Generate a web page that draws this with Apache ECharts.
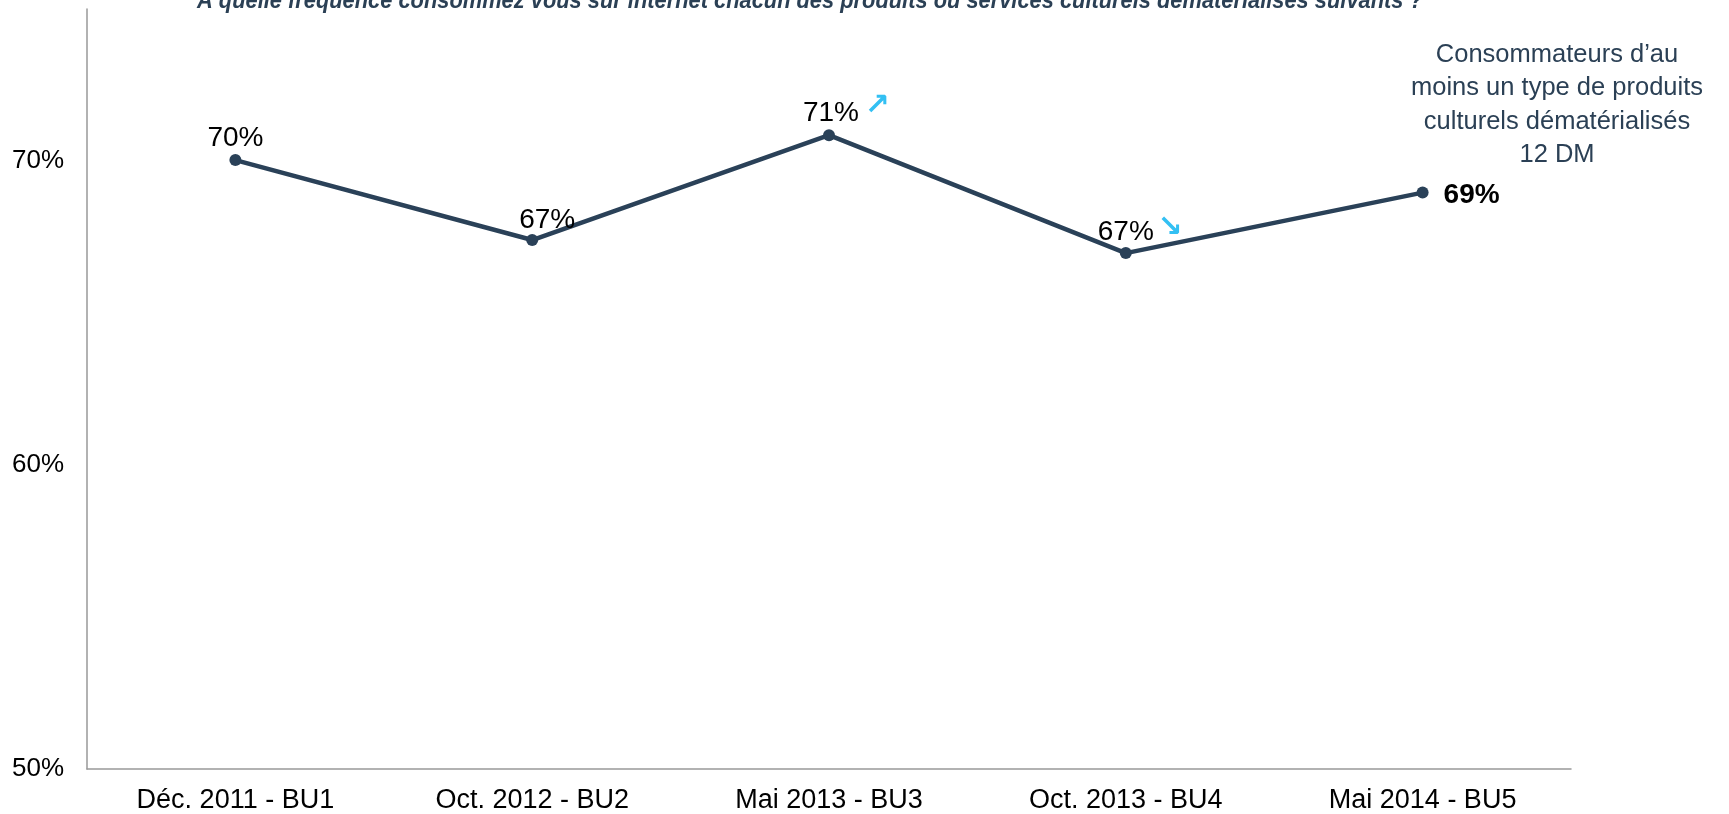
<!DOCTYPE html>
<html>
<head>
<meta charset="utf-8">
<script src="https://cdn.jsdelivr.net/npm/echarts@6/dist/echarts.min.js"></script>
<style>
html,body{margin:0;padding:0;background:#fff;}
#chart{width:1729px;height:814px;}
</style>
</head>
<body>
<div id="chart"></div>
<script>
const categories = ['Déc. 2011 - BU1', 'Oct. 2012 - BU2', 'Mai 2013 - BU3', 'Oct. 2013 - BU4', 'Mai 2014 - BU5'];
const values = [70.03, 67.4, 70.85, 66.97, 68.96];
const valueLabels = ['70%', '67%', '71%', '67%', '69%'];
const trends = ['', '', 'up', 'down', ''];
const yTicks = [50, 60, 70];
const titleText = 'A quelle fréquence consommez vous sur internet chacun des produits ou services culturels dématérialisés suivants ?';
const noteLines = ['Consommateurs d\u2019au', 'moins un type de produits', 'culturels dématérialisés', '12 DM'];

const FONT = 'Arial, "Liberation Sans", sans-serif';
const arrowGlyph = { up: '\u2197', down: '\u2198' };

const labelStyle = {
  0: { position: 'top', distance: 2 },
  1: { position: 'top', distance: 0, offset: [15, 0] },
  2: { position: 'top', distance: 2, offset: [2, 0] },
  3: { position: 'top', distance: 1, offset: [0, 0] },
  4: { position: 'right', distance: 15, offset: [0, 3], fontWeight: 'bold' }
};
const arrowOffset = { up: [48, -29], down: [44, -25] };

const seriesData = values.map((v, i) => ({
  value: v,
  label: Object.assign({
    show: true,
    color: '#000',
    fontSize: 28,
    fontFamily: FONT,
    formatter: () => valueLabels[i]
  }, labelStyle[i])
}));

const arrowData = values.map((v, i) => trends[i] ? {
  value: [i, v],
  label: {
    show: true,
    position: 'inside',
    offset: arrowOffset[trends[i]],
    formatter: () => arrowGlyph[trends[i]],
    color: '#00b0f0',
    fontSize: 30,
    fontWeight: 'bold',
    fontFamily: '"DejaVu Sans", sans-serif'
  }
} : null).filter(d => d);

const chart = echarts.init(document.getElementById('chart'), null, { renderer: 'canvas' });
chart.setOption({
  animation: false,
  backgroundColor: '#fff',
  grid: { left: 87, right: 158, top: 9, bottom: 43, containLabel: false },
  xAxis: {
    type: 'category',
    data: categories,
    boundaryGap: true,
    axisLine: { show: true, lineStyle: { color: '#999', width: 1.5 } },
    axisTick: { show: false },
    axisLabel: { color: '#000', fontSize: 27, fontFamily: FONT, margin: 18, interval: 0 },
    splitLine: { show: false }
  },
  yAxis: {
    type: 'value',
    min: 50,
    max: 75,
    interval: 10,
    axisLine: { show: true, lineStyle: { color: '#999', width: 1.5 } },
    axisTick: { show: false },
    splitLine: { show: false },
    axisLabel: {
      color: '#000', fontSize: 26, fontFamily: FONT, margin: 23,
      showMaxLabel: false,
      formatter: v => yTicks.includes(v) ? v + '%' : ''
    }
  },
  series: [{
    type: 'line',
    data: seriesData,
    symbol: 'circle',
    symbolSize: 12,
    lineStyle: { color: '#2a4158', width: 4.5 },
    itemStyle: { color: '#2a4158' },
    z: 3
  }, {
    type: 'scatter',
    data: arrowData,
    symbol: 'circle',
    symbolSize: 1,
    itemStyle: { color: 'rgba(0,0,0,0)' },
    silent: true,
    z: 4
  }],
  graphic: [
    {
      type: 'text',
      x: 197,
      y: -11,
      scaleX: 0.91,
      style: {
        text: titleText,
        font: 'italic bold 24px Arial, "Liberation Sans", sans-serif',
        fill: '#2b4055'
      }
    },
    {
      type: 'text',
      x: 1557,
      y: 38,
      style: {
        text: noteLines.join('\n'),
        font: '25.5px ' + FONT,
        lineHeight: 33.5,
        align: 'center',
        fill: '#2b4055'
      }
    }
  ]
});
</script>
</body>
</html>
